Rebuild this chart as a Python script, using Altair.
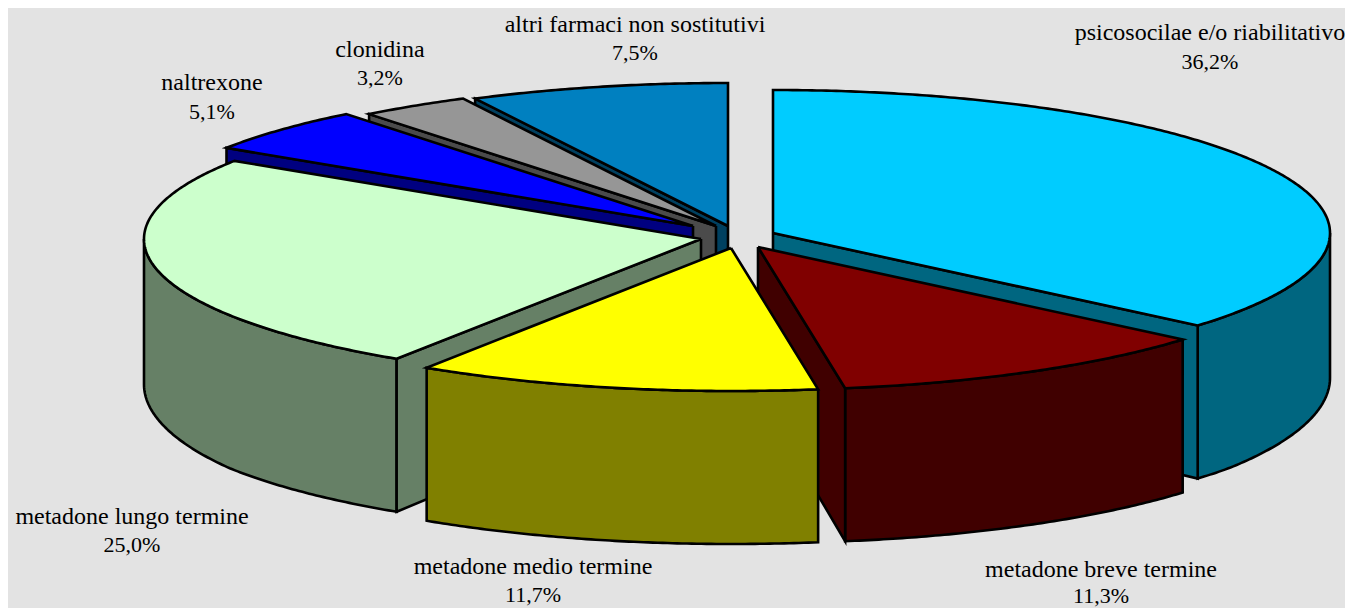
import math
import altair as alt
import pandas as pd

# Slice data, in drawing sequence clockwise from 12 o'clock
names = ["psicosocilae e/o riabilitativo", "metadone breve termine", "metadone medio termine",
         "metadone lungo termine", "naltrexone", "clonidina", "altri farmaci non sostitutivi"]
shares = [36.2, 11.3, 11.7, 25.0, 5.1, 3.2, 7.5]
share_labels = ["36,2%", "11,3%", "11,7%", "25,0%", "5,1%", "3,2%", "7,5%"]
top_colors = ["#00CCFF", "#800000", "#FFFF00", "#CCFFCC", "#0000FF", "#969696", "#0080C0"]
side_colors = ["#006680", "#400000", "#808000", "#668066", "#000080", "#4B4B4B", "#004060"]

# Exploded apex of every slice, page pixels
apex_x = [773, 758, 731, 701, 693, 716, 728]
apex_y = [233, 247, 248, 239, 226, 226, 226]
label_x = [1210, 1101, 533, 132, 212, 380, 635]
label_y1 = [33, 570, 567, 517, 83, 50, 25]
label_y2 = [62, 596, 595, 545, 112, 78, 53]

RX, RY = 557, 143
DOM_X = [8, 1345]
DOM_Y = [608, 8]
SCALE_X = alt.Scale(domain=DOM_X, nice=False, zero=False)
SCALE_Y = alt.Scale(domain=DOM_Y, nice=False, zero=False)


def depth(y):
    return min(153, 145 + (y - 235) * 0.1)


def rim(i, a):
    r = math.radians(a)
    return apex_x[i] + RX * math.sin(r), apex_y[i] - RY * math.cos(r)


def arc(i, a0, a1):
    n = max(2, int(abs(a1 - a0) * 2))
    return [rim(i, a0 + (a1 - a0) * k / n) for k in range(n + 1)]


def down(p):
    return p[0], p[1] + depth(p[1])


def shape(pts, fill):
    closed = list(pts) + [pts[0]]
    df = pd.DataFrame({"x": [p[0] for p in closed], "y": [p[1] for p in closed],
                       "i": range(len(closed))})
    return alt.Chart(df).mark_line(fill=fill, stroke="black", strokeWidth=2.6,
                                   strokeJoin="miter", strokeCap="butt", clip=False).encode(
        x=alt.X("x:Q", scale=SCALE_X, axis=None),
        y=alt.Y("y:Q", scale=SCALE_Y, axis=None),
        order="i:Q")


edges = [0]
for s in shares:
    edges.append(edges[-1] + s * 3.6 * 100 / sum(shares))

layers = []
for i in [6, 5, 4, 3, 0, 1, 2]:
    a0, a1 = edges[i], edges[i + 1]
    apex = (apex_x[i], apex_y[i])
    # outer wall (front half of the rim only)
    lo, hi = max(a0, 90), min(a1, 270)
    if lo < hi:
        top = arc(i, lo, hi)
        layers.append(shape(top + [down(p) for p in reversed(top)], side_colors[i]))
    # radial walls facing the viewer
    if a0 > 180 or i == 0:
        e = rim(i, a0) if a0 > 180 else rim(i, a1)
        layers.append(shape([apex, e, down(e), down(apex)], side_colors[i]))
    if i == 1:
        e = rim(i, a1)
        layers.append(shape([apex, e, down(e), down(apex)], side_colors[i]))
    # top face
    layers.append(shape([apex] + arc(i, a0, a1), top_colors[i]))


def text_layer(values, ys, size):
    df = pd.DataFrame({"t": values, "x": label_x, "y": ys})
    return alt.Chart(df).mark_text(font="Liberation Serif", fontSize=size, color="black",
                                   align="center", baseline="middle").encode(
        x=alt.X("x:Q", scale=SCALE_X, axis=None),
        y=alt.Y("y:Q", scale=SCALE_Y, axis=None),
        text="t:N")


chart = alt.layer(*layers, text_layer(names, label_y1, 24),
                  text_layer(share_labels, label_y2, 22)).properties(
    width=1337, height=600, background="#E3E3E3", padding=0,
    autosize=alt.AutoSizeParams(type="none")
).configure_view(stroke=None)

chart.save("out.html", embed_options={"renderer": "svg", "actions": False})
